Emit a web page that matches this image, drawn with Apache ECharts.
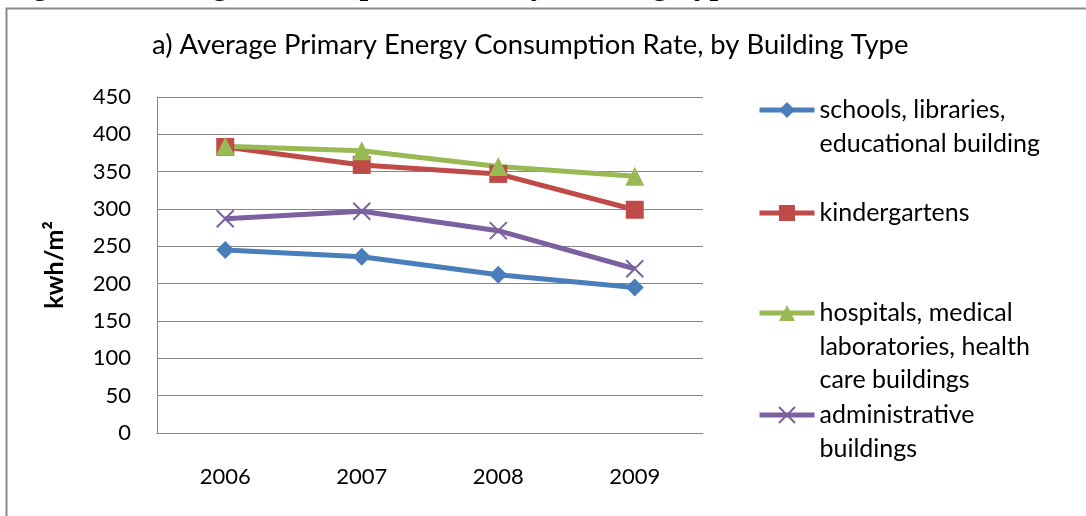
<!DOCTYPE html>
<html>
<head>
<meta charset="utf-8">
<script src="https://cdn.jsdelivr.net/npm/echarts@6/dist/echarts.min.js"></script>
<style>
  html, body { margin: 0; padding: 0; background: #fff; }
  #root { width: 1086px; height: 516px; }
</style>
</head>
<body>
<div id="root"></div>
<script>
  const years = ['2006', '2007', '2008', '2009'];
  const seriesNames = [
    'schools, libraries, educational building',
    'kindergartens',
    'hospitals, medical laboratories, health care buildings',
    'administrative buildings'
  ];
  // legend text wrapped like the original
  const legendLines = [
    ['schools, libraries,', 'educational building'],
    ['kindergartens'],
    ['hospitals, medical', 'laboratories, health', 'care buildings'],
    ['administrative', 'buildings']
  ];
  const schools = [245, 236, 212, 195];
  const kindergartens = [383, 359, 347, 299];
  const hospitals = [384, 378, 357, 344];
  const administrative = [287, 297, 271, 220];
  const yTicks = [0, 50, 100, 150, 200, 250, 300, 350, 400, 450];

  const colors = ['#4A7EBB', '#BE4B48', '#98B954', '#7D60A0'];
  const font = 'Lato, "Open Sans", sans-serif';
  const crossPath = 'path://M0,0L10,10M10,0L0,10';

  const values = [schools, kindergartens, hospitals, administrative];
  const symbols = ['diamond', 'rect', 'triangle', crossPath];
  const symbolSizes = [18, 18, 19, 17];
  const legendIconY = [110, 213, 313, 415];
  const lineH = 33.5;

  const series = seriesNames.map((name, i) => ({
    name: name,
    type: 'line',
    data: values[i],
    symbol: symbols[i],
    symbolSize: symbolSizes[i],
    showAllSymbol: true,
    lineStyle: { color: colors[i], width: 5 },
    itemStyle: i === 3
      ? { color: colors[i], borderColor: colors[i], borderWidth: 2 }
      : { color: colors[i] },
    emphasis: { disabled: true },
    animation: false
  }));

  // blank lines in front keep the icon level with the first text line
  const legends = seriesNames.map((name, i) => {
    const n = legendLines[i].length;
    const blanks = new Array(n - 1).fill(' ');
    return {
      data: [name],
      orient: 'vertical',
      left: 757,
      top: legendIconY[i] - (lineH * (2 * n - 1)) / 2,
      padding: 0,
      itemWidth: 55,
      itemHeight: 20,
      selectedMode: false,
      lineStyle: { width: 5 },
      formatter: () => blanks.concat(legendLines[i]).join('\n'),
      textStyle: {
        fontFamily: font, fontSize: 25, color: '#000', lineHeight: lineH
      }
    };
  });

  const option = {
    backgroundColor: '#fff',
    animation: false,
    color: colors,
    title: {
      text: 'a) Average Primary Energy Consumption Rate, by Building Type',
      left: 152, top: 32, padding: 0,
      textStyle: { fontFamily: font, fontSize: 27.4, fontWeight: 'normal', color: '#000' }
    },
    graphic: [
      {
        type: 'rect', silent: true,
        shape: { x: 6.5, y: 8.5, width: 1200, height: 700 },
        style: { fill: 'none', stroke: '#8a8a8a', lineWidth: 2 }
      },
      {
        type: 'text', silent: true, left: 5, top: -30,
        style: {
          text: 'Figure 5: Average Consumption Rate, by Building Type',
          font: 'bold 31px "Liberation Serif", serif', fill: '#000'
        }
      }
    ],
    legend: legends,
    grid: { left: 157, right: 383, top: 97, bottom: 83, containLabel: false },
    xAxis: {
      type: 'category',
      data: years,
      boundaryGap: true,
      axisLine: { lineStyle: { color: '#868686', width: 1 } },
      axisTick: { show: false },
      axisLabel: { fontFamily: font, fontSize: 22, color: '#000', margin: 33 }
    },
    yAxis: {
      type: 'value',
      min: 0, max: 450, interval: 50,
      name: 'kwh/m²',
      nameLocation: 'middle',
      nameGap: 90,
      nameTextStyle: { fontFamily: font, fontSize: 25, fontWeight: 'bold', color: '#000' },
      axisLine: { show: true, lineStyle: { color: '#868686', width: 1 } },
      axisTick: { show: false },
      splitLine: { lineStyle: { color: '#868686', width: 1 } },
      axisLabel: {
        fontFamily: font, fontSize: 22, color: '#000', margin: 26,
        formatter: v => (yTicks.includes(v) ? String(v) : '')
      }
    },
    series: series
  };

  const chart = echarts.init(document.getElementById('root'), null, { renderer: 'canvas' });
  chart.setOption(option);
</script>
</body>
</html>
